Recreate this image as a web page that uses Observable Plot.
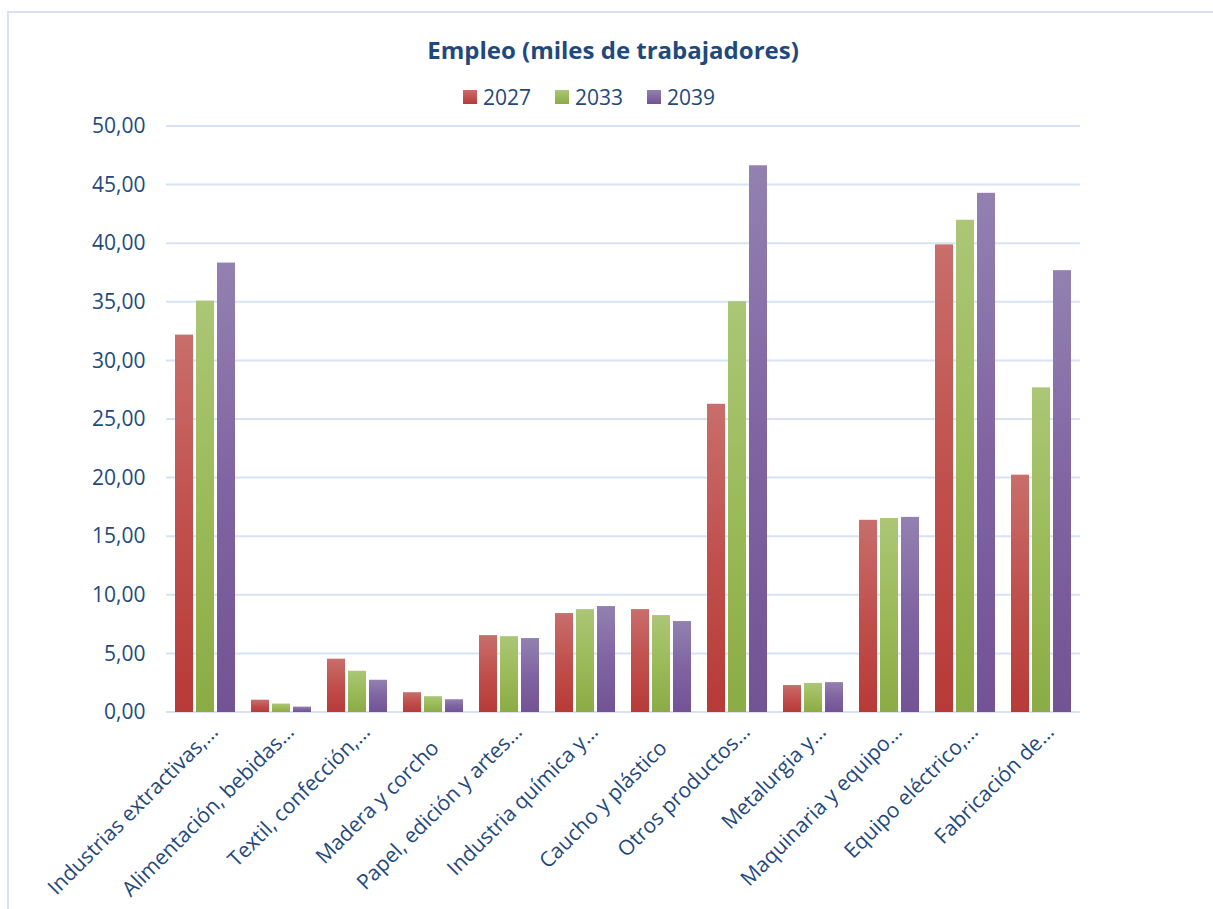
<!DOCTYPE html>
<html>
<head>
<meta charset="utf-8">
<script src="https://cdn.jsdelivr.net/npm/d3@7"></script>
<script src="https://cdn.jsdelivr.net/npm/@observablehq/plot@0.6"></script>
<style>
  html, body { margin: 0; padding: 0; background: #fff; }
  body { width: 1213px; height: 909px; overflow: hidden; position: relative; font-family: "Open Sans", sans-serif; color: #1f497d; }
  #frame { position: absolute; left: 7px; top: 11px; right: -4px; bottom: -4px; border-left: 2px solid #d7e3f4; border-top: 2px solid #d7e3f4; pointer-events: none; }
  #title { padding-top: 35px; height: 30px; line-height: 30px; text-align: center; font-weight: 700; font-size: 24px; padding-left: 13px; }
  #legend { margin-top: 19px; height: 26px; line-height: 26px; display: flex; justify-content: center; padding-right: 35px; font-size: 21px; }
  .item { display: flex; align-items: center; margin: 0 12px; }
  .sw { width: 14px; height: 14px; margin-right: 6px; }
  svg { display: block; }
</style>
</head>
<body>
<div id="frame"></div>
<div id="title">Empleo (miles de trabajadores)</div>
<div id="legend"></div>
<div id="chart"></div>
<script>
const categories = [
  "Industrias extractivas,…",
  "Alimentación, bebidas…",
  "Textil, confección,…",
  "Madera y corcho",
  "Papel, edición y artes…",
  "Industria química y…",
  "Caucho y plástico",
  "Otros productos…",
  "Metalurgia y…",
  "Maquinaria y equipo…",
  "Equipo eléctrico,…",
  "Fabricación de…"
];
const years = ["2027", "2033", "2039"];
const values2027 = [32.2, 1.05, 4.55, 1.69, 6.56, 8.44, 8.78, 26.3, 2.3, 16.4, 39.9, 20.25];
const values2033 = [35.1, 0.72, 3.52, 1.35, 6.47, 8.78, 8.27, 35.05, 2.48, 16.55, 42.0, 27.7];
const values2039 = [38.35, 0.46, 2.75, 1.09, 6.31, 9.04, 7.76, 46.65, 2.55, 16.65, 44.3, 37.7];
const yTicks = [0, 5, 10, 15, 20, 25, 30, 35, 40, 45, 50];
const seriesColors = ["#c0504d", "#9bbb59", "#8064a2"];
const gradTop = ["#c86e6b", "#abc676", "#9381b1"];
const gradBottom = ["#b73a37", "#8bab45", "#725394"];

const series = [values2027, values2033, values2039];
const data = [];
categories.forEach((c, i) => {
  years.forEach((y, j) => data.push({cat: c, year: y, value: series[j][i]}));
});

// legend
const legend = document.getElementById("legend");
years.forEach((y, j) => {
  const it = document.createElement("div");
  it.className = "item";
  const sw = document.createElement("div");
  sw.className = "sw";
  sw.style.background = `linear-gradient(${gradTop[j]}, ${gradBottom[j]})`;
  it.appendChild(sw);
  const t = document.createElement("span");
  t.textContent = y;
  it.appendChild(t);
  legend.appendChild(it);
});

const fmt = v => v.toFixed(2).replace(".", ",");
const gridColor = "#d7e3f4";
const textColor = "#1f497d";
const truncated = categories.filter(c => c.endsWith("…"));
const full = categories.filter(c => !c.endsWith("…"));

const W = 1213, H = 799, ML = 167, MR = 133, MT = 16, MB = 197;

const plot = Plot.plot({
  width: W,
  height: H,
  marginTop: MT,
  marginBottom: MB,
  marginLeft: ML,
  marginRight: MR,
  style: {fontFamily: "Open Sans, sans-serif", color: textColor, background: "transparent", overflow: "visible"},
  fx: {domain: categories, paddingInner: 0.21, paddingOuter: 0.1, label: null},
  x: {domain: years, paddingInner: 0.143, paddingOuter: 0, axis: null},
  y: {domain: [0, 50], label: null},
  color: {domain: years, range: years.map(y => `url(#grad${y})`)},
  marks: [
    Plot.barY(data, {fx: "cat", x: "year", y: "value", fill: "year"}),
    Plot.axisY(yTicks, {tickSize: 0, tickPadding: 24, dx: -6, tickFormat: fmt, fontSize: 21, fill: textColor, label: null}),
    Plot.axisFx({ticks: truncated, anchor: "bottom", tickSize: 0, tickRotate: -45, tickPadding: 10, fontSize: 21, fill: textColor, label: null, dx: 9, dy: 6, textAnchor: "end"}),
    Plot.axisFx({ticks: full, anchor: "bottom", tickSize: 0, tickRotate: -45, tickPadding: 10, fontSize: 21, fill: textColor, label: null, dx: 2, dy: 22, textAnchor: "end"})
  ]
});

const root = d3.select(plot);
const defs = root.insert("defs", ":first-child");
years.forEach((y, j) => {
  const g = defs.append("linearGradient").attr("id", `grad${y}`).attr("x1", 0).attr("y1", 0).attr("x2", 0).attr("y2", 1);
  g.append("stop").attr("offset", "0%").attr("stop-color", gradTop[j]);
  g.append("stop").attr("offset", "50%").attr("stop-color", seriesColors[j]);
  g.append("stop").attr("offset", "100%").attr("stop-color", gradBottom[j]);
});
// full-width horizontal gridlines, positioned by Plot's own y scale
const yScale = plot.scale("y");
const grid = root.insert("g", "defs + *").attr("stroke", gridColor).attr("stroke-width", 2);
yTicks.forEach(t => {
  const yy = yScale.apply(t);
  grid.append("line").attr("x1", ML - 1).attr("x2", W - MR).attr("y1", yy).attr("y2", yy);
});
document.getElementById("chart").appendChild(plot);
</script>
</body>
</html>
